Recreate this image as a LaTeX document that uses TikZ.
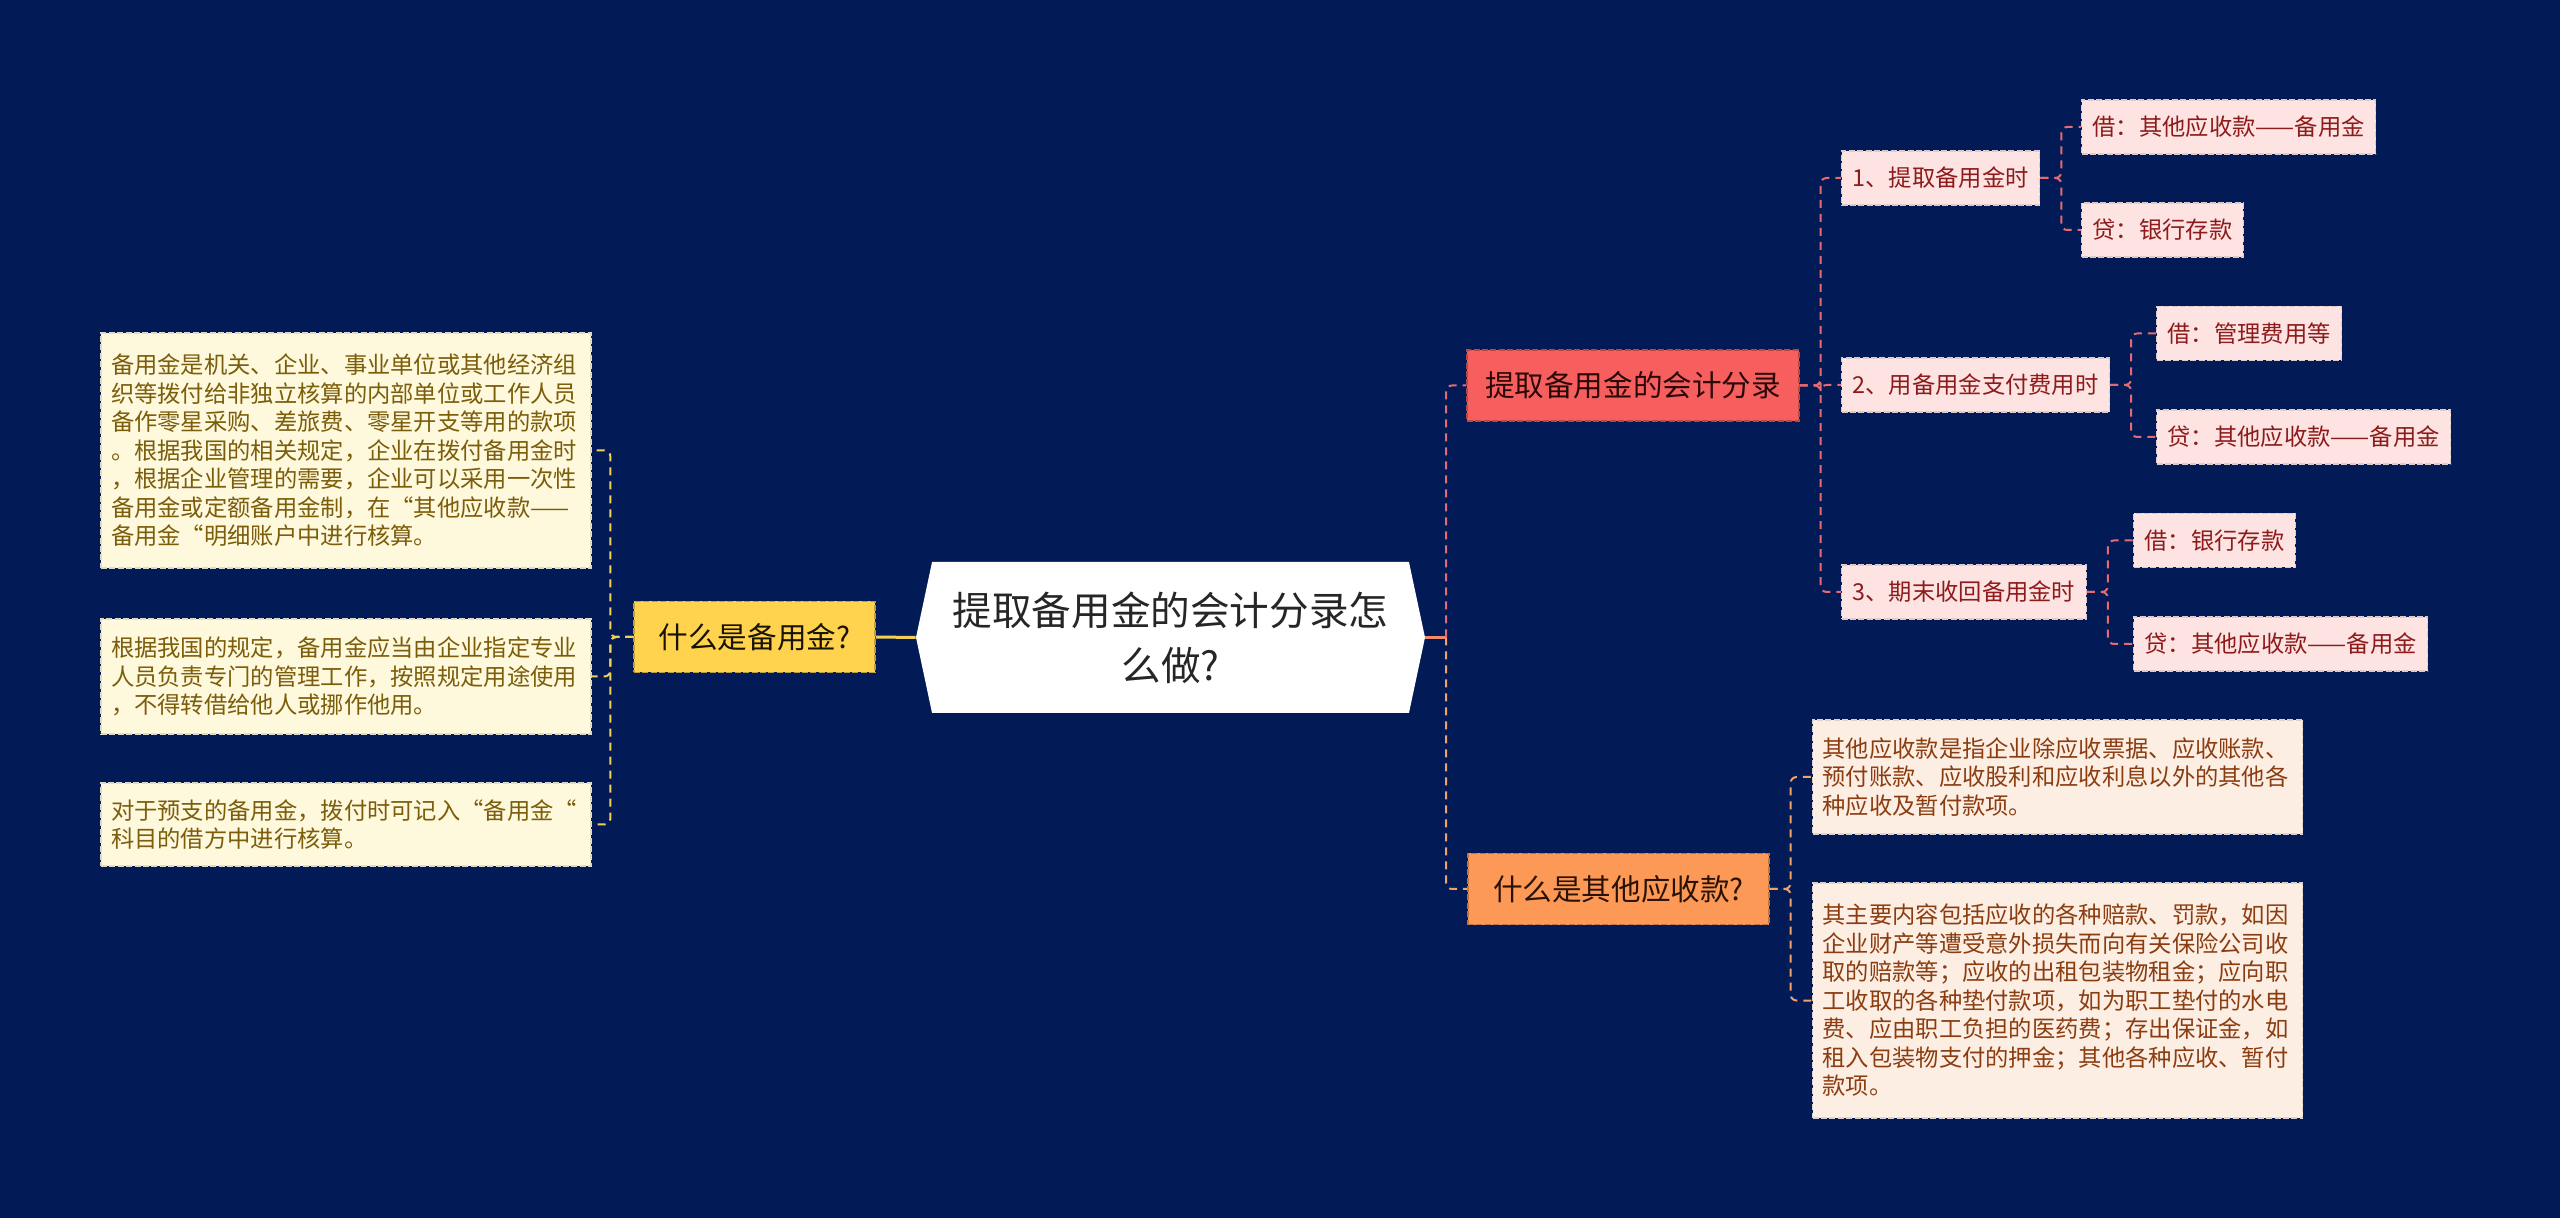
\documentclass[tikz,border=0pt]{standalone}
\usepackage{fontspec}
\setmainfont{Noto Sans CJK SC}
\usetikzlibrary{positioning}
\usetikzlibrary{calc}
\usetikzlibrary{shapes.symbols}
\definecolor{navy}{HTML}{021B56}
\definecolor{rootline}{HTML}{F08A6A}
\definecolor{yellowfill}{HTML}{FFD34E}
\definecolor{yellowline}{HTML}{F3CF55}
\definecolor{yellowleaf}{HTML}{FEF8DD}
\definecolor{yellowtext}{HTML}{7B5D0A}
\definecolor{redfill}{HTML}{F65F5E}
\definecolor{redline}{HTML}{E66A74}
\definecolor{redleaf}{HTML}{FDE4E2}
\definecolor{redtext}{HTML}{8E1B1B}
\definecolor{orangefill}{HTML}{FD9956}
\definecolor{orangeline}{HTML}{F3A06A}
\definecolor{orangeleaf}{HTML}{FDEEE4}
\definecolor{orangetext}{HTML}{8B3D10}

\tikzset{
    rootnode/.style={signal, signal to=west and east, signal pointer angle=156,
        fill=white, text=black!85, align=center, inner sep=2pt,
        font=\fontsize{19.8pt}{27.5pt}\selectfont,
        minimum width=254.5pt, minimum height=75.5pt},
    topic/.style={rectangle, font=\fontsize{14.8pt}{18pt}\selectfont,
        minimum height=35.5pt, inner xsep=8pt, line width=0.6pt,
        dash pattern=on 3pt off 1.2pt},
    leaf/.style={rectangle, font=\fontsize{11.65pt}{14.25pt}\selectfont,
        minimum height=27pt, inner xsep=5.5pt, line width=0.6pt,
        dash pattern=on 3pt off 1.2pt},
    para/.style={leaf, text width=235pt, align=left, inner xsep=5pt, inner ysep=3pt},
    yellowtopic/.style={topic, fill=yellowfill, draw=yellowfill!75!black, text=black!80!yellowtext},
    yellowpara/.style={para, fill=yellowleaf, draw=yellowleaf!75!gray, text=yellowtext},
    redtopic/.style={topic, fill=redfill, draw=redfill!75!black, text=black!70!redtext},
    redbox/.style={leaf, fill=redleaf, draw=redleaf!75!gray, text=redtext},
    orangetopic/.style={topic, fill=orangefill, draw=orangefill!75!black, text=black!70!orangetext},
    orangepara/.style={para, fill=orangeleaf, draw=orangeleaf!75!gray, text=orangetext},
    link/.style={line width=1pt, dash pattern=on 4pt off 3pt, rounded corners=3pt},
    rootlink/.style={line width=1.5pt},
}

\begin{document}
\begin{tikzpicture}[x=0.5pt, y=-0.5pt]
    % Background
    \fill[navy] (0,0) rectangle (2560,1218);

    % Central topic
    \node[rootnode] (root) at (1170.5,637.5) {提取备用金的会计分录怎\\么做?};

    % Left branch
    \node[yellowtopic, minimum width=120.5pt] (qa) at (754.5,637) {什么是备用金?};
    \node[yellowpara, minimum height=117.5pt] (lb1) at (346,450.5) {备用金是机关、企业、事业单位或其他经济组\\织等拨付给非独立核算的内部单位或工作人员\\备作零星采购、差旅费、零星开支等用的款项\\。根据我国的相关规定，企业在拨付备用金时\\，根据企业管理的需要，企业可以采用一次性\\备用金或定额备用金制，在“其他应收款——\\备用金“明细账户中进行核算。};
    \node[yellowpara, minimum height=57.5pt] (lb2) at (346,676.5) {根据我国的规定，备用金应当由企业指定专业\\人员负责专门的管理工作，按照规定用途使用\\，不得转借给他人或挪作他用。};
    \node[yellowpara, minimum height=41.5pt] (lb3) at (346,824.5) {对于预支的备用金，拨付时可记入“备用金“\\科目的借方中进行核算。};

    % Upper right branch
    \node[redtopic, minimum width=166pt] (red) at (1633,385.5) {提取备用金的会计分录};
    \node[redbox, anchor=west] (s1) at (1841,178) {1、提取备用金时};
    \node[redbox, anchor=west] (s2) at (1841,385) {2、用备用金支付费用时};
    \node[redbox, anchor=west] (s3) at (1841,592) {3、期末收回备用金时};
    \node[redbox, anchor=west] (l11) at (2081,127) {借：其他应收款——备用金};
    \node[redbox, anchor=west] (l12) at (2081,230) {贷：银行存款};
    \node[redbox, anchor=west] (l21) at (2156,333.5) {借：管理费用等};
    \node[redbox, anchor=west] (l22) at (2156,437) {贷：其他应收款——备用金};
    \node[redbox, anchor=west] (l31) at (2133,540.5) {借：银行存款};
    \node[redbox, anchor=west] (l32) at (2133,644) {贷：其他应收款——备用金};

    % Lower right branch
    \node[orangetopic, minimum width=150.5pt] (orange) at (1618.5,889) {什么是其他应收款?};
    \node[orangepara, minimum height=57pt] (ra) at (2057.5,777) {其他应收款是指企业除应收票据、应收账款、\\预付账款、应收股利和应收利息以外的其他各\\种应收及暂付款项。};
    \node[orangepara, minimum height=117.5pt] (rb) at (2057.5,1000.5) {其主要内容包括应收的各种赔款、罚款，如因\\企业财产等遭受意外损失而向有关保险公司收\\取的赔款等；应收的出租包装物租金；应向职\\工收取的各种垫付款项，如为职工垫付的水电\\费、应由职工负担的医药费；存出保证金，如\\租入包装物支付的押金；其他各种应收、暂付\\款项。};

    % Connectors from the centre
    \coordinate (rbus) at (1446,637.5);
    \draw[rootlink, yellowline] (root.west) -- (qa.east);
    \draw[rootlink, rootline] (root.east) -- (rbus);
    \draw[link, redline] (rbus) |- (red.west);
    \draw[link, orangeline] (rbus) |- (orange.west);

    % Connectors to the children
    \foreach \n in {lb1,lb2,lb3}
        \draw[link, yellowline] (qa.west) -- ++(-23,0) |- (\n.east);
    \foreach \n in {s1,s2,s3}
        \draw[link, redline] (red.east) -- ++(21,0) |- (\n.west);
    \foreach \a/\b in {s1/l11, s1/l12, s2/l21, s2/l22, s3/l31, s3/l32}
        \draw[link, redline] (\a.east) -- ++(21,0) |- (\b.west);
    \foreach \n in {ra,rb}
        \draw[link, orangeline] (orange.east) -- ++(21,0) |- (\n.west);
\end{tikzpicture}
\end{document}
